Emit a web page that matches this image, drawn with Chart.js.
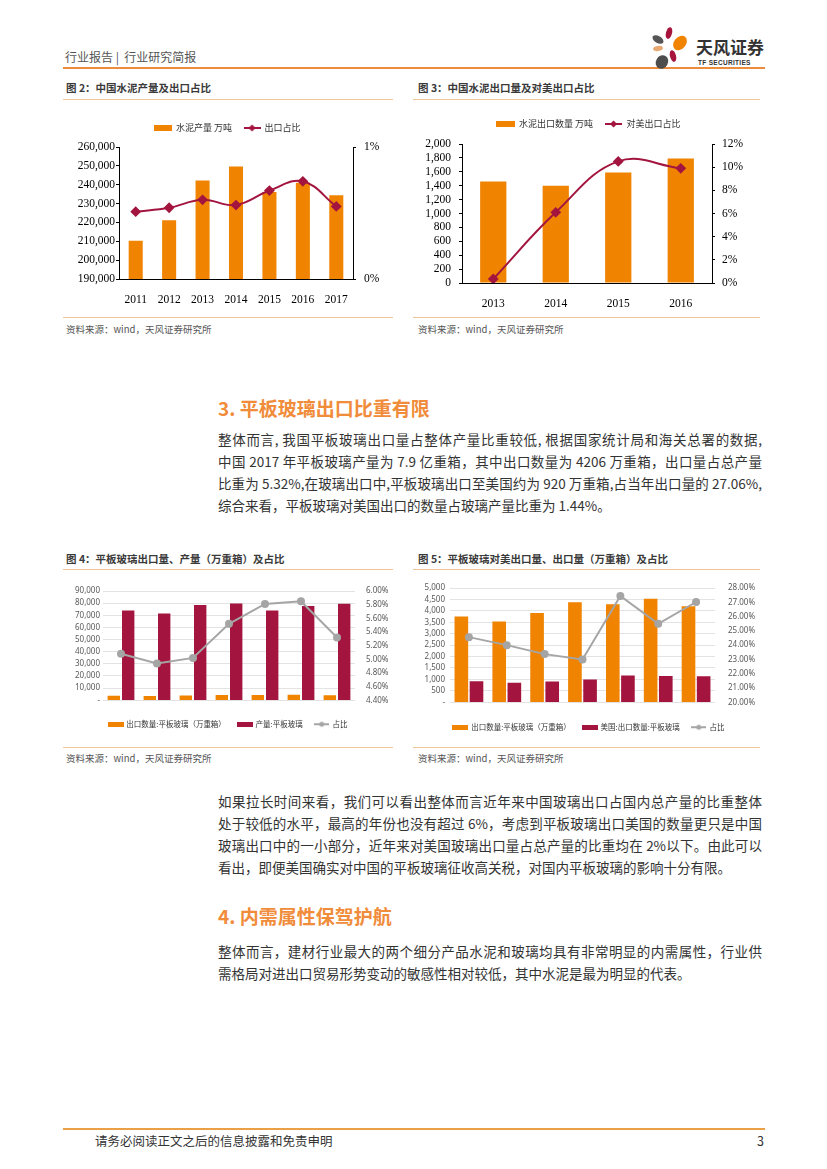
<!DOCTYPE html>
<html lang="zh-CN">
<head>
<meta charset="utf-8">
<title>行业研究简报</title>
<script src="https://cdn.jsdelivr.net/npm/chart.js@4.4.1/dist/chart.umd.min.js"></script>
<style>
html,body{margin:0;padding:0;background:#fff;}
body{width:827px;height:1169px;position:relative;overflow:hidden;font-family:"Noto Sans CJK SC","Noto Sans",sans-serif;color:#333;}
.abs{position:absolute;white-space:nowrap;}
.rule{position:absolute;height:1px;background:#F2C594;}
.ftitle{position:absolute;font-size:10.5px;font-weight:bold;color:#3a3a3a;line-height:14px;white-space:nowrap;}
.src{position:absolute;font-size:9.5px;color:#555;line-height:12px;white-space:nowrap;}
.h{position:absolute;left:218px;font-size:19px;font-weight:bold;color:#F08C3A;line-height:24px;white-space:nowrap;}
.ln{position:absolute;left:218px;width:544px;font-size:13.5px;line-height:22px;height:22px;overflow:hidden;text-align:justify;text-align-last:justify;color:#333;}
.ln.last{text-align-last:left;}
.petal{position:absolute;border-radius:50%;}
canvas{position:absolute;}
</style>
</head>
<body>

<!-- header -->
<div class="abs" style="left:65px;top:49px;font-size:12px;color:#555;line-height:16px;">行业报告&nbsp;|&nbsp;&nbsp;行业研究简报</div>
<div style="position:absolute;left:63px;top:67px;width:702px;height:2px;background:#EC8C3C;"></div>
<div class="petal" style="left:666px;top:27px;width:6px;height:12px;background:#A6143C;transform:rotate(15deg);"></div>
<div class="petal" style="left:652px;top:36px;width:12px;height:7px;background:#555;transform:rotate(30deg);"></div>
<div class="petal" style="left:674px;top:35px;width:12px;height:16px;background:#F08300;transform:rotate(40deg);"></div>
<div class="petal" style="left:653px;top:46px;width:10px;height:5px;background:#E8A874;transform:rotate(-10deg);"></div>
<div class="petal" style="left:670px;top:50px;width:6px;height:12px;background:#A6143C;transform:rotate(-15deg);"></div>
<div class="petal" style="left:656px;top:55px;width:12px;height:14px;background:#4D4D4D;transform:rotate(30deg);"></div>
<div class="abs" style="left:696px;top:37px;font-size:17px;font-weight:bold;color:#333;line-height:20px;">天风证券</div>
<div class="abs" style="left:698px;top:59px;font-size:6.5px;font-weight:bold;color:#333;line-height:8px;letter-spacing:0.3px;font-family:'Liberation Sans',sans-serif;">TF SECURITIES</div>

<!-- figure 2 / 3 frames -->
<div class="ftitle" style="left:66px;top:81px;">图 2：中国水泥产量及出口占比</div>
<div class="rule" style="left:63px;top:99px;width:330px;"></div>
<div class="rule" style="left:63px;top:317px;width:330px;"></div>
<div class="src" style="left:66px;top:323px;">资料来源：wind，天风证券研究所</div>

<div class="ftitle" style="left:418px;top:81px;">图 3：中国水泥出口量及对美出口占比</div>
<div class="rule" style="left:413px;top:99px;width:347px;"></div>
<div class="rule" style="left:413px;top:317px;width:347px;"></div>
<div class="src" style="left:418px;top:323px;">资料来源：wind，天风证券研究所</div>

<canvas id="c2" width="330" height="196" style="left:63px;top:108px;width:330px;height:196px;"></canvas>
<canvas id="c3" width="352" height="204" style="left:413px;top:104px;width:352px;height:204px;"></canvas>

<!-- section 3 -->
<div class="h" style="top:396px;">3. 平板玻璃出口比重有限</div>
<div class="ln" style="top:428px;">整体而言, 我国平板玻璃出口量占整体产量比重较低, 根据国家统计局和海关总署的数据,</div>
<div class="ln" style="top:450px;">中国 2017 年平板玻璃产量为 7.9 亿重箱，其中出口数量为 4206 万重箱，出口量占总产量</div>
<div class="ln" style="top:472px;">比重为 5.32%,在玻璃出口中,平板玻璃出口至美国约为 920 万重箱,占当年出口量的 27.06%,</div>
<div class="ln last" style="top:494px;">综合来看，平板玻璃对美国出口的数量占玻璃产量比重为 1.44%。</div>

<!-- figure 4 / 5 frames -->
<div class="ftitle" style="left:66px;top:552px;">图 4：平板玻璃出口量、产量（万重箱）及占比</div>
<div class="rule" style="left:63px;top:569px;width:330px;"></div>
<div class="rule" style="left:63px;top:747px;width:330px;"></div>
<div class="src" style="left:66px;top:752px;">资料来源：wind，天风证券研究所</div>

<div class="ftitle" style="left:418px;top:552px;">图 5：平板玻璃对美出口量、出口量（万重箱）及占比</div>
<div class="rule" style="left:413px;top:569px;width:347px;"></div>
<div class="rule" style="left:413px;top:747px;width:347px;"></div>
<div class="src" style="left:418px;top:752px;">资料来源：wind，天风证券研究所</div>

<canvas id="c4" width="330" height="157" style="left:63px;top:581px;width:330px;height:157px;"></canvas>
<canvas id="c5" width="352" height="163" style="left:413px;top:578px;width:352px;height:163px;"></canvas>

<!-- text -->
<div class="ln" style="top:790px;">如果拉长时间来看，我们可以看出整体而言近年来中国玻璃出口占国内总产量的比重整体</div>
<div class="ln" style="top:812px;">处于较低的水平，最高的年份也没有超过 6%，考虑到平板玻璃出口美国的数量更只是中国</div>
<div class="ln" style="top:834px;">玻璃出口中的一小部分，近年来对美国玻璃出口量占总产量的比重均在 2%以下。由此可以</div>
<div class="ln last" style="top:856px;">看出，即便美国确实对中国的平板玻璃征收高关税，对国内平板玻璃的影响十分有限。</div>

<div class="h" style="top:904px;">4. 内需属性保驾护航</div>
<div class="ln" style="top:940px;">整体而言，建材行业最大的两个细分产品水泥和玻璃均具有非常明显的内需属性，行业供</div>
<div class="ln last" style="top:962px;">需格局对进出口贸易形势变动的敏感性相对较低，其中水泥是最为明显的代表。</div>

<!-- footer -->
<div style="position:absolute;left:63px;top:1128px;width:702px;height:2px;background:#EBA045;"></div>
<div class="abs" style="left:95px;top:1133px;font-size:12.5px;color:#333;line-height:16px;">请务必阅读正文之后的信息披露和免责申明</div>
<div class="abs" style="left:757px;top:1133px;font-size:12.5px;color:#333;line-height:16px;">3</div>

<script>
// data
const years = ['2011', '2012', '2013', '2014', '2015', '2016', '2017'];
const cementOutput = [210300, 221200, 242200, 249600, 236200, 241100, 234400];   // 万吨
const cementExportShare = [0.51, 0.54, 0.60, 0.56, 0.67, 0.74, 0.55];            // %

const cementYears = ['2013', '2014', '2015', '2016'];
const cementExport = [1460, 1400, 1590, 1790];      // 万吨
const cementUsShare = [0.35, 6.1, 10.5, 9.9];       // %

const glassExport = [3750, 3530, 3910, 4375, 4290, 4535, 4206];          // 万重箱
const glassOutput = [74000, 71400, 78500, 79700, 74000, 77700, 79400];   // 万重箱
const glassExportShare = [5.08, 4.94, 5.02, 5.52, 5.81, 5.85, 5.32];     // %
const glassUsExport = [920, 850, 910, 1000, 1175, 1150, 1138];           // 万重箱
const glassUsShare = [24.56, 24.0, 23.37, 23.0, 27.44, 25.49, 27.02];    // %

const ORANGE = '#F08300';
const CRIMSON = '#A3153F';
const GRAY = '#A5A5A5';
const serif = {family: 'Liberation Serif', size: 11.5};
const small = {family: 'Noto Sans', size: 8};
const cjkSmall = {family: 'Noto Sans CJK SC', size: 7.5};
const cjkLegend = {family: 'Noto Sans CJK SC', size: 9};

const fitW = w => s => { s.width = w; };
const fitH = h => s => { s.height = h; };
const comma = v => v.toLocaleString('en-US');
const dashZero = v => v === 0 ? '-' : v.toLocaleString('en-US');

function barIcon(color, w, h) {
  const c = document.createElement('canvas');
  c.width = w; c.height = h;
  const x = c.getContext('2d');
  x.fillStyle = color;
  x.fillRect(0, 0, w, h);
  return c;
}
function lineIcon(color, w, marker, r) {
  const c = document.createElement('canvas');
  c.width = w; c.height = 10;
  const x = c.getContext('2d');
  x.strokeStyle = color; x.fillStyle = color; x.lineWidth = 2;
  x.beginPath(); x.moveTo(0, 5); x.lineTo(w, 5); x.stroke();
  x.beginPath();
  if (marker === 'diamond') {
    x.moveTo(w / 2, 5 - r); x.lineTo(w / 2 + r, 5); x.lineTo(w / 2, 5 + r); x.lineTo(w / 2 - r, 5);
  } else {
    x.arc(w / 2, 5, r, 0, Math.PI * 2);
  }
  x.fill();
  return c;
}

function legendOpts(pos, font, pad, iconW, icons) {
  return {
    position: pos,
    weight: 1000,
    labels: {
      usePointStyle: true,
      pointStyleWidth: iconW,
      padding: pad,
      color: '#333',
      font: font,
      generateLabels(chart) {
        const items = Chart.defaults.plugins.legend.labels.generateLabels(chart);
        items.sort((a, b) => a.datasetIndex - b.datasetIndex);
        items.forEach(it => { it.pointStyle = icons[it.datasetIndex]; });
        return items;
      }
    }
  };
}
// empty box between the legend and the plot
const spacer = h => ({display: true, text: ' ', position: 'top', weight: 500,
  font: {size: 1, lineHeight: 1}, padding: {top: h - 1, bottom: 0}});

Chart.defaults.animation = false;
Chart.defaults.responsive = false;
Chart.defaults.plugins.tooltip.enabled = false;

// 图2
new Chart(document.getElementById('c2'), {
  type: 'bar',
  data: {
    labels: years,
    datasets: [
      {label: '水泥产量 万吨', data: cementOutput, backgroundColor: ORANGE,
        barPercentage: 0.42, categoryPercentage: 1, yAxisID: 'y', order: 1},
      {type: 'line', label: '出口占比', data: cementExportShare, yAxisID: 'y1', order: 0,
        borderColor: CRIMSON, backgroundColor: CRIMSON, borderWidth: 2, tension: 0.4,
        pointStyle: 'rectRot', pointRadius: 4}
    ]
  },
  options: {
    layout: {padding: {top: 3.5, left: 0, right: 0, bottom: 0}},
    plugins: {
      legend: legendOpts('top', cjkLegend, 12, 16,
        [barIcon(ORANGE, 18, 6), lineIcon(CRIMSON, 17, 'diamond', 3.5)]),
      subtitle: spacer(4.5)
    },
    scales: {
      x: {grid: {display: false}, border: {color: '#000'},
        ticks: {color: '#000', font: serif, padding: 6}, afterFit: fitH(25)},
      y: {position: 'left', min: 190000, max: 260000,
        ticks: {stepSize: 10000, autoSkip: false, color: '#000', font: serif, padding: 1, callback: comma},
        grid: {drawOnChartArea: false, tickLength: 3, color: '#000'}, border: {color: '#000'},
        afterFit: fitW(56)},
      y1: {position: 'right', min: 0, max: 1,
        ticks: {stepSize: 1, autoSkip: false, color: '#000', font: serif, padding: 8, callback: v => v + '%'},
        grid: {drawOnChartArea: false, tickLength: 3, color: '#000'}, border: {color: '#000'},
        afterFit: fitW(40)}
    }
  }
});

// 图3
new Chart(document.getElementById('c3'), {
  type: 'bar',
  data: {
    labels: cementYears,
    datasets: [
      {label: '水泥出口数量 万吨', data: cementExport, backgroundColor: ORANGE,
        barPercentage: 0.42, categoryPercentage: 1, yAxisID: 'y', order: 1},
      {type: 'line', label: '对美出口占比', data: cementUsShare, yAxisID: 'y1', order: 0,
        borderColor: CRIMSON, backgroundColor: CRIMSON, borderWidth: 2, tension: 0.4,
        pointStyle: 'rectRot', pointRadius: 4}
    ]
  },
  options: {
    layout: {padding: {top: 3.5, left: 0, right: 0, bottom: 0}},
    plugins: {
      legend: legendOpts('top', cjkLegend, 12, 17,
        [barIcon(ORANGE, 19, 6), lineIcon(CRIMSON, 17, 'diamond', 3.5)]),
      subtitle: spacer(5.5)
    },
    scales: {
      x: {grid: {display: false}, border: {color: '#000'},
        ticks: {color: '#000', font: serif, padding: 6}, afterFit: fitH(25)},
      y: {position: 'left', min: 0, max: 2000,
        ticks: {stepSize: 200, autoSkip: false, color: '#000', font: serif, padding: 8, callback: comma},
        grid: {drawOnChartArea: false, tickLength: 3, color: '#000'}, border: {color: '#000'},
        afterFit: fitW(49)},
      y1: {position: 'right', min: 0, max: 12,
        ticks: {stepSize: 2, autoSkip: false, color: '#000', font: serif, padding: 7, callback: v => v + '%'},
        grid: {drawOnChartArea: false, tickLength: 3, color: '#000'}, border: {color: '#000'},
        afterFit: fitW(53)}
    }
  }
});

// 图4
new Chart(document.getElementById('c4'), {
  type: 'bar',
  data: {
    labels: years,
    datasets: [
      {label: '出口数量:平板玻璃（万重箱）', data: glassExport, backgroundColor: ORANGE,
        barPercentage: 0.86, categoryPercentage: 0.8, yAxisID: 'y', order: 1},
      {label: '产量:平板玻璃', data: glassOutput, backgroundColor: CRIMSON,
        barPercentage: 0.86, categoryPercentage: 0.8, yAxisID: 'y', order: 1},
      {type: 'line', label: '占比', data: glassExportShare, yAxisID: 'y1', order: 0,
        borderColor: GRAY, backgroundColor: GRAY, borderWidth: 2, tension: 0,
        pointStyle: 'circle', pointRadius: 3}
    ]
  },
  options: {
    layout: {padding: {top: 10, left: 0, right: 0, bottom: 0}},
    plugins: {
      legend: legendOpts('bottom', cjkSmall, 12, 14,
        [barIcon(ORANGE, 16, 5), barIcon(CRIMSON, 16, 5), lineIcon(GRAY, 15, 'circle', 2.5)])
    },
    scales: {
      x: {grid: {display: false}, border: {display: false},
        ticks: {color: '#595959', font: small, padding: 4}, afterFit: fitH(8.25)},
      y: {position: 'left', min: 0, max: 90000,
        ticks: {stepSize: 10000, autoSkip: false, color: '#595959', font: small, padding: 3, callback: dashZero},
        grid: {color: '#D9D9D9', lineWidth: 0.75, drawTicks: false}, border: {display: false},
        afterFit: fitW(40)},
      y1: {position: 'right', min: 4.4, max: 6.0,
        ticks: {stepSize: 0.2, autoSkip: false, color: '#595959', font: small, padding: 3, callback: v => v.toFixed(2) + '%'},
        grid: {display: false}, border: {display: false},
        afterFit: fitW(38)}
    }
  }
});

// 图5
new Chart(document.getElementById('c5'), {
  type: 'bar',
  data: {
    labels: years,
    datasets: [
      {label: '出口数量:平板玻璃（万重箱）', data: glassExport, backgroundColor: ORANGE,
        barPercentage: 0.9, categoryPercentage: 0.8, yAxisID: 'y', order: 1},
      {label: '美国:出口数量:平板玻璃', data: glassUsExport, backgroundColor: CRIMSON,
        barPercentage: 0.9, categoryPercentage: 0.8, yAxisID: 'y', order: 1},
      {type: 'line', label: '占比', data: glassUsShare, yAxisID: 'y1', order: 0,
        borderColor: GRAY, backgroundColor: GRAY, borderWidth: 2, tension: 0,
        pointStyle: 'circle', pointRadius: 3}
    ]
  },
  options: {
    layout: {padding: {top: 10, left: 0, right: 0, bottom: 0}},
    plugins: {
      legend: legendOpts('bottom', cjkSmall, 12, 14,
        [barIcon(ORANGE, 16, 5), barIcon(CRIMSON, 16, 5), lineIcon(GRAY, 15, 'circle', 2.5)])
    },
    scales: {
      x: {grid: {display: false}, border: {display: false},
        ticks: {color: '#595959', font: small, padding: 4}, afterFit: fitH(9.25)},
      y: {position: 'left', min: 0, max: 5000,
        ticks: {stepSize: 500, autoSkip: false, color: '#595959', font: small, padding: 5, callback: dashZero},
        grid: {color: '#D9D9D9', lineWidth: 0.75, drawTicks: false}, border: {display: false},
        afterFit: fitW(37)},
      y1: {position: 'right', min: 20, max: 28,
        ticks: {stepSize: 1, autoSkip: false, color: '#595959', font: small, padding: 5, callback: v => v.toFixed(2) + '%'},
        grid: {display: false}, border: {display: false},
        afterFit: fitW(50)}
    }
  }
});
</script>
</body>
</html>
